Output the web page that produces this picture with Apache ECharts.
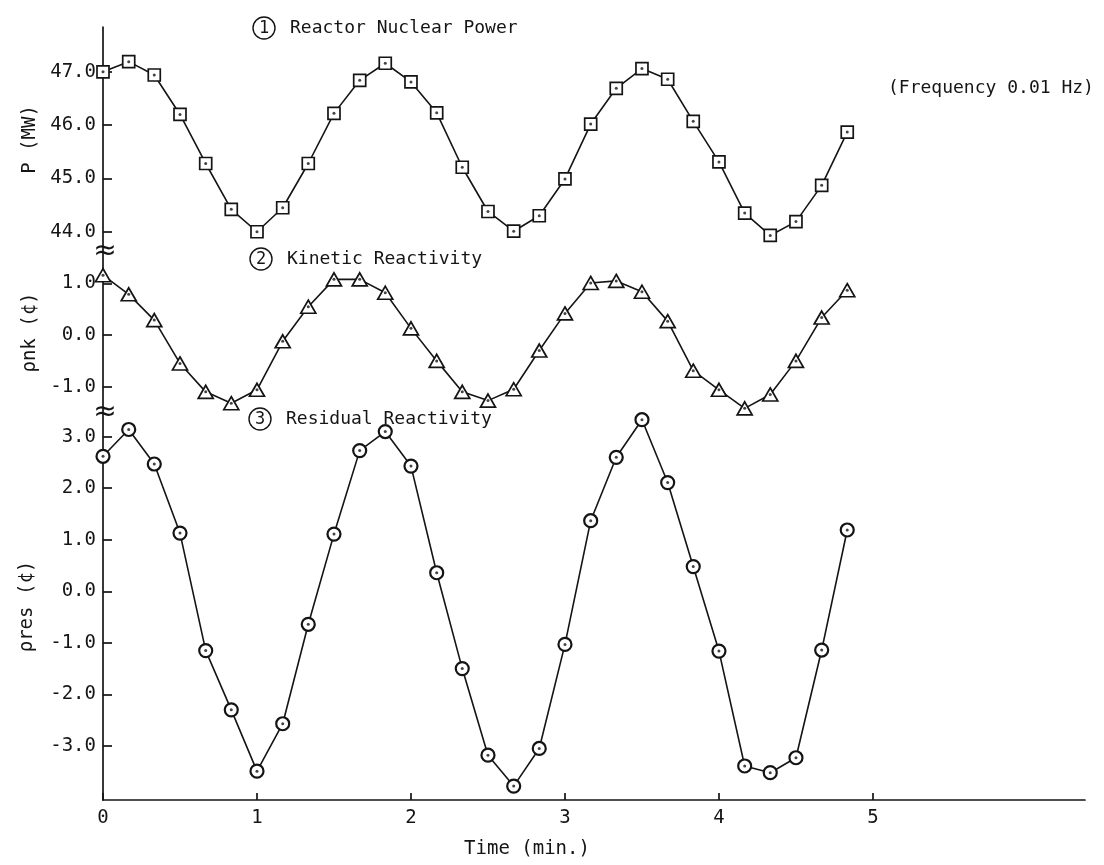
<!DOCTYPE html>
<html>
<head>
<meta charset="utf-8">
<script src="https://cdn.jsdelivr.net/npm/echarts@6/dist/echarts.min.js"></script>
<style>
  html, body { margin: 0; padding: 0; background: #ffffff; }
  #chart { width: 1104px; height: 865px; }
</style>
</head>
<body>
<div id="chart"></div>
<script>
// Sample times (minutes), one point every 10 s
const timeMin = [0, 0.167, 0.333, 0.5, 0.667, 0.833, 1.0, 1.167, 1.333, 1.5,
                 1.667, 1.833, 2.0, 2.167, 2.333, 2.5, 2.667, 2.833, 3.0, 3.167,
                 3.333, 3.5, 3.667, 3.833, 4.0, 4.167, 4.333, 4.5, 4.667, 4.833];

// (1) Reactor nuclear power, MW
const powerMW = [47.00, 47.19, 46.94, 46.20, 45.28, 44.42, 44.00, 44.45, 45.28, 46.22,
                 46.84, 47.16, 46.81, 46.23, 45.21, 44.38, 44.01, 44.30, 44.99, 46.02,
                 46.69, 47.06, 46.86, 46.07, 45.31, 44.35, 43.93, 44.19, 44.87, 45.87];

// (2) Kinetic reactivity, cents
const kineticReact = [1.16, 0.79, 0.29, -0.55, -1.10, -1.32, -1.06, -0.12, 0.55, 1.08,
                      1.08, 0.82, 0.13, -0.50, -1.10, -1.27, -1.05, -0.30, 0.42, 1.01,
                      1.05, 0.84, 0.27, -0.69, -1.06, -1.42, -1.15, -0.50, 0.34, 0.87];

// (3) Residual reactivity, cents
const residualReact = [2.62, 3.14, 2.47, 1.13, -1.15, -2.30, -3.49, -2.57, -0.64, 1.11,
                       2.73, 3.10, 2.43, 0.36, -1.50, -3.18, -3.78, -3.05, -1.03, 1.37,
                       2.60, 3.33, 2.11, 0.48, -1.16, -3.39, -3.52, -3.23, -1.14, 1.19];

// Tick labels
const timeTicks = [0, 1, 2, 3, 4, 5];
const powerTicks = [44, 45, 46, 47];
const kineticTicks = [-1, 0, 1];
const residualTicks = [-3, -2, -1, 0, 1, 2, 3];

// Text
const panelTitles = ['Reactor Nuclear Power', 'Kinetic Reactivity', 'Residual Reactivity'];
const axisNames = ['P (MW)', 'ρnk (¢)', 'ρres (¢)'];
const xAxisName = 'Time (min.)';
const noteText = '(Frequency 0.01 Hz)';

// ---- layout ----
const INK = '#141414';
const TXT = '#151515';
const FONT = '"DejaVu Sans Mono", "Liberation Mono", monospace';
const FS = 19;
const LEFT = 103, RIGHT = 19;
const panels = [
  { top: 27,  height: 225, min: 43.62, max: 47.84, gap: 55 },
  { top: 252, height: 161, min: -1.51, max: 1.61,  gap: 58 },
  { top: 413, height: 387, min: -4.05, max: 3.46,  gap: 66 }
];
const X_MAX = 6.377;

const pairs = (ys) => timeMin.map((t, i) => [t, ys[i]]);

const grids = panels.map(p => ({ left: LEFT, right: RIGHT, top: p.top, height: p.height }));

const xAxes = panels.map((p, i) => {
  const last = i === panels.length - 1;
  return {
    type: 'value', gridIndex: i, min: 0, max: X_MAX, show: last,
    axisLine: { show: true, onZero: false, lineStyle: { color: INK, width: 1.7 } },
    axisTick: { show: true, inside: true, length: 7, customValues: timeTicks,
                lineStyle: { color: INK, width: 1.7 } },
    axisLabel: { show: true, customValues: timeTicks, margin: 9, color: TXT,
                 fontFamily: FONT, fontSize: FS, formatter: v => String(v) },
    splitLine: { show: false }
  };
});

const tickSets = [powerTicks, kineticTicks, residualTicks];
const yAxes = panels.map((p, i) => ({
  type: 'value', gridIndex: i, min: p.min, max: p.max,
  name: axisNames[i], nameLocation: 'middle', nameRotate: 90, nameGap: p.gap,
  nameTextStyle: { color: TXT, fontFamily: FONT, fontSize: FS },
  axisLine: { show: true, onZero: false, lineStyle: { color: INK, width: 1.7 } },
  axisTick: { show: true, inside: true, length: 9, customValues: tickSets[i],
              lineStyle: { color: INK, width: 1.7 } },
  axisLabel: { show: true, customValues: tickSets[i], margin: 7, color: TXT,
               fontFamily: FONT, fontSize: FS, formatter: v => v.toFixed(1) },
  splitLine: { show: false }
}));

const markerDefs = [
  { symbol: 'rect', size: 12, border: 1.7 },
  { symbol: 'triangle', size: [15, 13], border: 1.7 },
  { symbol: 'circle', size: 13, border: 2.2 }
];
const seriesData = [powerMW, kineticReact, residualReact];

const series = [];
seriesData.forEach((ys, i) => {
  const m = markerDefs[i];
  series.push({
    type: 'line', xAxisIndex: i, yAxisIndex: i, data: pairs(ys),
    symbol: m.symbol, symbolSize: m.size, showSymbol: true, showAllSymbol: true,
    clip: false, silent: true, z: 2,
    lineStyle: { color: INK, width: 1.6 },
    itemStyle: { color: '#ffffff', borderColor: INK, borderWidth: m.border }
  });
  // centre dot inside each marker
  series.push({
    type: 'scatter', xAxisIndex: i, yAxisIndex: i, data: pairs(ys),
    symbol: 'circle', symbolSize: 3, clip: false, silent: true, z: 3,
    itemStyle: { color: INK }
  });
});

// circled number + caption for each panel
const titlePos = [
  { cx: 264, cy: 28 },
  { cx: 261, cy: 259 },
  { cx: 260, cy: 419 }
];
const graphics = [];
titlePos.forEach((tp, i) => {
  graphics.push({
    type: 'circle', shape: { cx: tp.cx, cy: tp.cy, r: 11 }, silent: true,
    style: { fill: 'none', stroke: INK, lineWidth: 1.4 }
  });
  graphics.push({
    type: 'text', x: tp.cx, y: tp.cy + 1, silent: true,
    style: { text: String(i + 1), fill: TXT, font: `17px ${FONT}`,
             align: 'center', verticalAlign: 'middle' }
  });
  graphics.push({
    type: 'text', x: tp.cx + 26, y: tp.cy, silent: true,
    style: { text: panelTitles[i], fill: TXT, font: `18px ${FONT}`,
             align: 'left', verticalAlign: 'middle' }
  });
});
// axis break marks between panels
[panels[1].top, panels[2].top].forEach(y => {
  graphics.push({
    type: 'text', x: LEFT + 2, y: y, silent: true,
    style: { text: '≈', fill: INK, font: `28px "DejaVu Sans"`,
             align: 'center', verticalAlign: 'middle' }
  });
});
graphics.push({
  type: 'text', x: 888, y: 88, silent: true,
  style: { text: noteText, fill: TXT, font: `18px ${FONT}`,
           align: 'left', verticalAlign: 'middle' }
});
graphics.push({
  type: 'text', x: 527, y: 849, silent: true,
  style: { text: xAxisName, fill: TXT, font: `${FS}px ${FONT}`,
           align: 'center', verticalAlign: 'middle' }
});

const chart = echarts.init(document.getElementById('chart'), null, { renderer: 'canvas' });
chart.setOption({
  backgroundColor: '#ffffff',
  animation: false,
  grid: grids,
  xAxis: xAxes,
  yAxis: yAxes,
  series: series,
  graphic: graphics
});
</script>
</body>
</html>
